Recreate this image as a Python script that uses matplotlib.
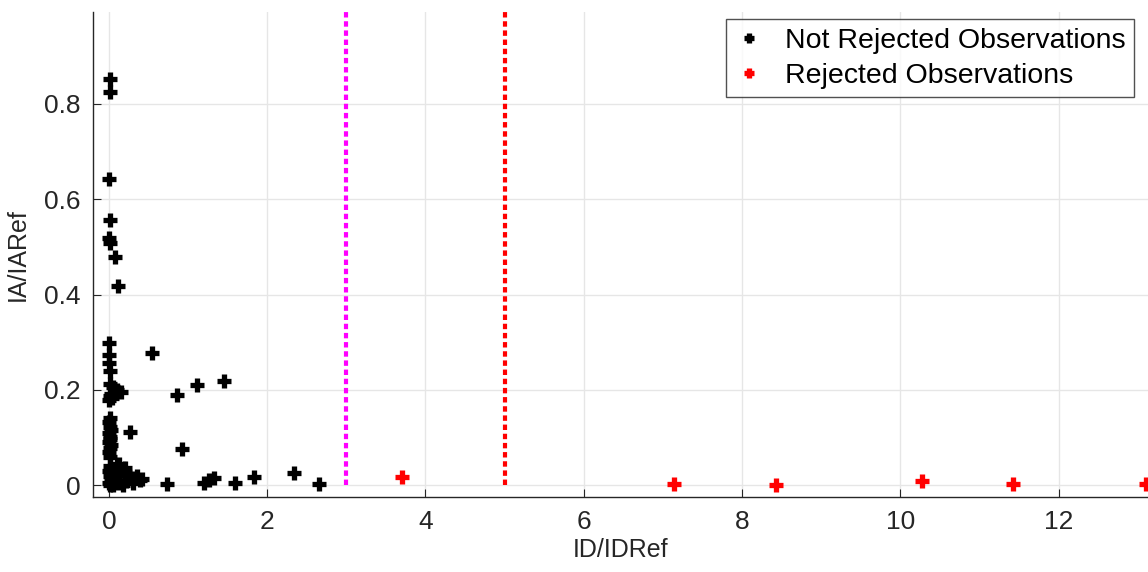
import matplotlib
matplotlib.use("Agg")
import matplotlib.pyplot as plt

plt.rcParams['font.family'] = ['Liberation Sans', 'DejaVu Sans']

# observations kept (ID/IDRef, IA/IARef)
kept_x = [0.01, 0.02, 0.00, 0.01, 0.00, 0.02, 0.08, 0.12,
          0.00, 0.00, 0.00, 0.01, 0.02, 0.05, 0.10, 0.15, 0.03, 0.01, 0.04, 0.00,
          0.02, 0.00, 0.01, 0.03, 0.00, 0.02, 0.01, 0.00, 0.03, 0.02, 0.00, 0.01,
          0.02, 0.00, 0.01, 0.03, 0.00, 0.02,
          0.55, 1.12, 0.86, 1.46, 0.27, 0.92, 0.73,
          0.10, 0.15, 0.20, 0.25, 0.30, 0.35, 0.40, 0.08, 0.12, 0.18, 0.22, 0.05,
          0.30, 0.42, 0.20, 0.13, 0.06, 0.09,
          1.20, 1.27, 1.33, 1.60, 1.84, 2.34, 2.66]
kept_y = [0.853, 0.826, 0.643, 0.557, 0.519, 0.508, 0.479, 0.418,
          0.298, 0.273, 0.256, 0.240, 0.212, 0.205, 0.200, 0.195, 0.192, 0.188, 0.183, 0.178,
          0.140, 0.132, 0.122, 0.116, 0.110, 0.102, 0.096, 0.090, 0.085, 0.078, 0.070, 0.060,
          0.040, 0.030, 0.020, 0.012, 0.005, 0.000,
          0.277, 0.210, 0.189, 0.219, 0.111, 0.075, 0.002,
          0.040, 0.030, 0.025, 0.020, 0.015, 0.020, 0.010, 0.015, 0.005, 0.000, 0.008, 0.000,
          0.005, 0.012, 0.035, 0.045, 0.025, 0.030,
          0.005, 0.010, 0.015, 0.004, 0.017, 0.025, 0.002]

# rejected observations
rej_x = [3.71, 7.14, 8.43, 10.27, 11.43, 13.10]
rej_y = [0.017, 0.002, 0.000, 0.008, 0.002, 0.002]

# thresholds
thr_warn = 3
thr_reject = 5

fig = plt.figure(figsize=(11.48, 5.72), dpi=100)
ax = fig.add_axes([0.081, 0.131, 0.919, 0.848])

ax.plot(kept_x, kept_y, '+', color='black', ms=10.5, mew=3.8, linestyle='none',
        label='Not Rejected Observations')
ax.plot(rej_x, rej_y, '+', color='red', ms=10.5, mew=3.8, linestyle='none',
        label='Rejected Observations')
ax.plot([thr_warn, thr_warn], [0, 1.0], color='#ff00ff', lw=3, linestyle=(0, (1.3, 0.9)))
ax.plot([thr_reject, thr_reject], [0, 1.0], color='#ff0000', lw=3, linestyle=(0, (1.3, 0.9)))

ax.set_xlim(-0.2, 13.13)
ax.set_ylim(-0.025, 0.993)
ax.set_xticks([0, 2, 4, 6, 8, 10, 12])
ax.set_yticks([0, 0.2, 0.4, 0.6, 0.8])
ax.set_yticklabels(['0', '0.2', '0.4', '0.6', '0.8'])

ax.grid(True, color='#e6e6e6', lw=1)
ax.set_axisbelow(True)
for s in ['top', 'right']:
    ax.spines[s].set_visible(False)
for s in ['left', 'bottom']:
    ax.spines[s].set_color('#262626')
    ax.spines[s].set_linewidth(1)
ax.tick_params(direction='in', length=6, colors='#262626', labelsize=19)
ax.tick_params(axis='x', pad=9)
ax.tick_params(axis='y', pad=9)

ax.set_xlabel('ID/IDRef', fontsize=18, color='#262626', labelpad=3)
ax.set_ylabel('IA/IARef', fontsize=18, color='#262626', labelpad=10)

leg = ax.legend(loc='upper right', bbox_to_anchor=(0.9865, 0.985), fontsize=20.5,
                frameon=True, fancybox=False, edgecolor='#262626', markerscale=0.65,
                handlelength=1.0, handletextpad=0.75, borderpad=0.3, labelspacing=0.32,
                borderaxespad=0)
leg.get_frame().set_linewidth(1)

fig.savefig('out.png', dpi=100)
